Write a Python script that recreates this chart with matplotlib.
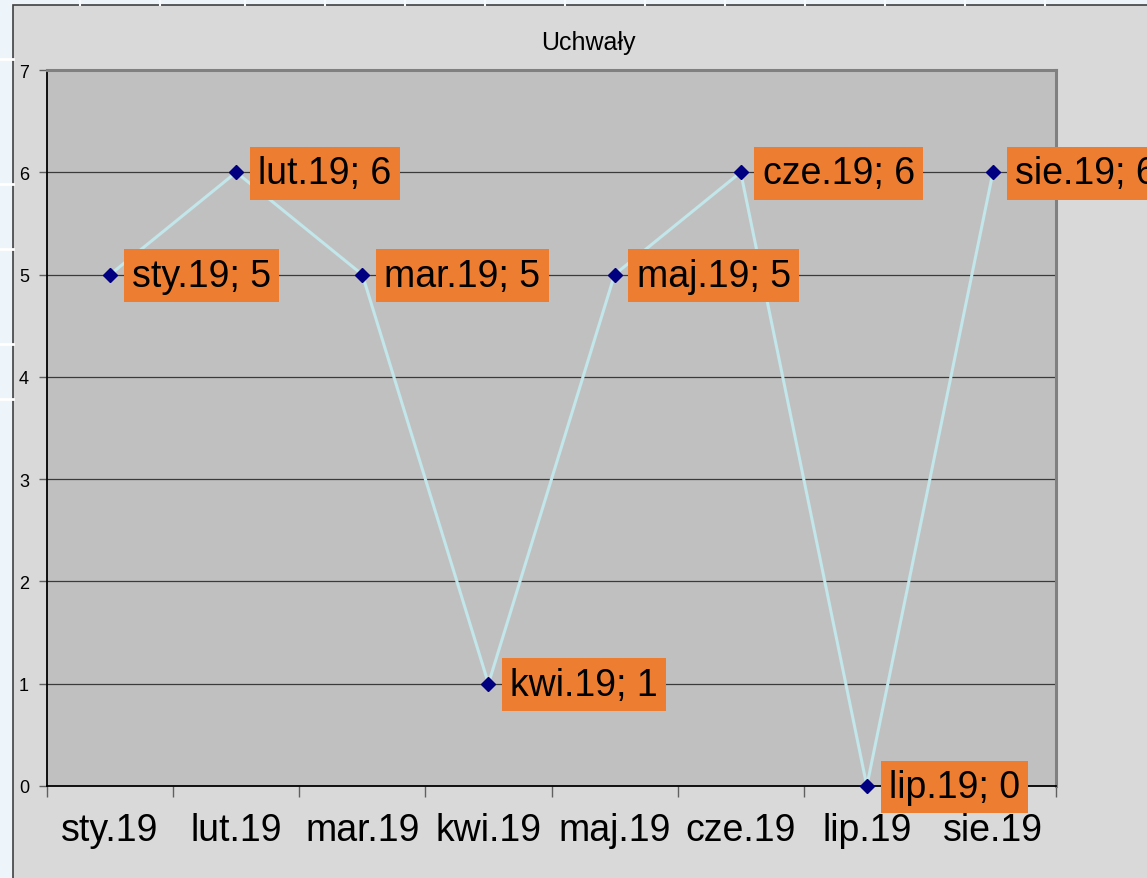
import matplotlib
matplotlib.use("Agg")
import matplotlib.pyplot as plt
from matplotlib.patches import Rectangle
from matplotlib.lines import Line2D

plt.rcParams['font.family'] = ['Liberation Sans', 'DejaVu Sans']

categories = ["sty.19", "lut.19", "mar.19", "kwi.19", "maj.19", "cze.19", "lip.19", "sie.19"]
values = [5, 6, 5, 1, 5, 6, 0, 6]
title = "Uchwały"
y_ticks = [0, 1, 2, 3, 4, 5, 6, 7]

W, H = 1147, 879
fig = plt.figure(figsize=(W / 100, H / 100), dpi=100)
fig.patch.set_facecolor('#edf4fa')

# slide background grid lines (white)
for yy in [60, 185, 250, 345, 400]:
    fig.add_artist(Line2D([0, 13 / W], [1 - yy / H, 1 - yy / H], transform=fig.transFigure,
                          color='white', lw=2))
for xx in [80, 160, 245, 325, 405, 485, 565, 645, 725, 805, 885, 965, 1045]:
    fig.add_artist(Line2D([xx / W, xx / W], [1, 1 - 6 / H], transform=fig.transFigure,
                          color='#f8fbfd', lw=1.5))

# chart area
fig.add_artist(Rectangle((13 / W, -0.01), 1.0, 1 - 6 / H + 0.01, transform=fig.transFigure,
                         facecolor='#d9d9d9', edgecolor='#404040', lw=1.2, zorder=0))

ax = fig.add_axes([47 / W, 1 - 787 / H, (1056 - 47) / W, (787 - 71) / H])
ax.set_facecolor('#c0c0c0')

x = list(range(len(categories)))
ax.set_xlim(-0.5, len(categories) - 0.5)
ax.set_ylim(0, 7)

for yv in y_ticks[1:-1]:
    ax.axhline(yv, color='#3a3a3a', lw=0.9, zorder=1)

ax.plot(x, values, color='#c2e6e9', lw=2.2, zorder=3, clip_on=False)
ax.plot(x, values, linestyle='none', marker='D', markersize=7.5, color='#000080',
        markeredgecolor='#000080', zorder=4, clip_on=False)

for xi, (c, v) in enumerate(zip(categories, values)):
    ax.annotate(f"{c}; {v}", (xi, v), xytext=(22, -1), textcoords='offset pixels',
                ha='left', va='center', fontsize=27, color='black',
                bbox=dict(boxstyle='square,pad=0.22', fc='#ED7D31', ec='none'),
                zorder=6, annotation_clip=False)

# spines
ax.spines['left'].set_color('black')
ax.spines['left'].set_linewidth(1.3)
ax.spines['bottom'].set_color('black')
ax.spines['bottom'].set_linewidth(1.3)
ax.spines['top'].set_color('#808080')
ax.spines['top'].set_linewidth(2.2)
ax.spines['right'].set_color('#808080')
ax.spines['right'].set_linewidth(2.2)
for s in ax.spines.values():
    s.set_zorder(2)

ax.set_yticks(y_ticks)
ax.set_yticklabels([str(t) for t in y_ticks], fontsize=13)
ax.tick_params(axis='y', length=6, width=1, color='#606060', pad=7)

ax.set_xticks(x)
ax.set_xticklabels(categories, fontsize=27)
ax.set_xticks([i - 0.5 for i in range(len(categories) + 1)], minor=True)
ax.tick_params(axis='x', which='major', length=0, pad=19)
ax.tick_params(axis='x', which='minor', length=8, width=1, color='#606060')

fig.text(588 / W, 1 - 43 / H, title, ha='center', va='center', fontsize=18)

fig.savefig('out.png', dpi=100, facecolor=fig.get_facecolor())
